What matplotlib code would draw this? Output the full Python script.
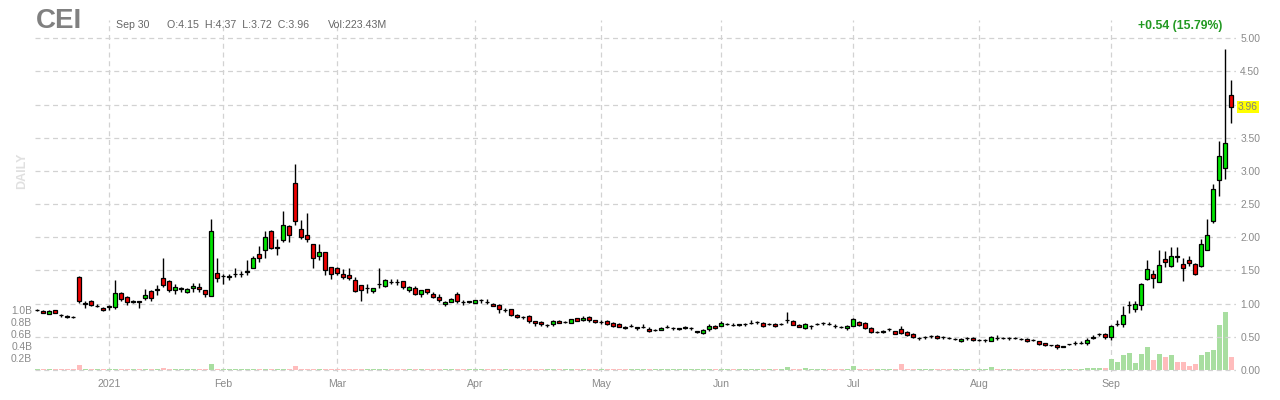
import matplotlib
matplotlib.use("Agg")
import matplotlib.pyplot as plt
import numpy as np
import pandas as pd

plt.rcParams['font.family'] = ['Liberation Sans', 'DejaVu Sans']

# ---- data (daily OHLC, volume in billions of shares) ----
ticker = "CEI"
first_day = "2020-12-15"
last_day = "2021-09-30"
holidays = ["2020-12-25", "2021-01-01", "2021-01-18", "2021-02-15",
            "2021-04-02", "2021-05-31", "2021-07-05", "2021-09-06"]

opens = [
    0.895, 0.89, 0.845, 0.895, 0.83, 0.81, 0.80, 1.40, 1.00, 1.045,
    0.965, 0.935, 0.95, 0.945, 1.165, 1.10, 1.025, 1.035, 1.085, 1.19,
    1.21, 1.39, 1.345, 1.20, 1.22, 1.17, 1.23, 1.25, 1.20, 1.12,
    1.46, 1.41, 1.40, 1.44, 1.44, 1.48, 1.54, 1.74, 1.80, 2.10,
    1.84, 1.965, 2.17, 2.81, 2.13, 2.04, 1.89, 1.72, 1.77, 1.555,
    1.53, 1.45, 1.425, 1.36, 1.275, 1.23, 1.195, 1.29, 1.27, 1.33,
    1.33, 1.335, 1.20, 1.235, 1.15, 1.215, 1.15, 1.105, 1.00, 1.03,
    1.15, 1.03, 1.03, 1.01, 1.055, 1.025, 1.00, 0.97, 0.90, 0.91,
    0.83, 0.80, 0.815, 0.74, 0.725, 0.675, 0.69, 0.74, 0.715, 0.705,
    0.785, 0.755, 0.80, 0.755, 0.72, 0.73, 0.70, 0.695, 0.64, 0.66,
    0.635, 0.64, 0.62, 0.60, 0.605, 0.645, 0.63, 0.62, 0.635, 0.63,
    0.575, 0.56, 0.615, 0.665, 0.665, 0.69, 0.68, 0.68, 0.685, 0.705,
    0.72, 0.71, 0.69, 0.695, 0.69, 0.75, 0.74, 0.68, 0.63, 0.655,
    0.69, 0.70, 0.695, 0.665, 0.65, 0.63, 0.66, 0.715, 0.71, 0.635,
    0.57, 0.575, 0.61, 0.59, 0.62, 0.565, 0.545, 0.475, 0.495, 0.505,
    0.515, 0.50, 0.48, 0.46, 0.435, 0.48, 0.485, 0.45, 0.45, 0.435,
    0.485, 0.475, 0.475, 0.485, 0.47, 0.465, 0.45, 0.43, 0.40, 0.375,
    0.375, 0.35, 0.385, 0.405, 0.405, 0.40, 0.485, 0.535, 0.54, 0.49,
    0.685, 0.69, 0.97, 0.915, 0.975, 1.375, 1.44, 1.33, 1.67, 1.57,
    1.71, 1.59, 1.655, 1.59, 1.57, 1.81, 2.25, 2.865, 3.05, 4.15,
]
highs = [
    0.92, 0.895, 0.90, 0.905, 0.84, 0.82, 0.805, 1.42, 1.035, 1.06,
    0.985, 0.95, 0.98, 1.36, 1.17, 1.115, 1.06, 1.045, 1.22, 1.20,
    1.28, 1.69, 1.35, 1.29, 1.245, 1.235, 1.31, 1.31, 1.21, 2.27,
    1.69, 1.45, 1.45, 1.54, 1.486, 1.65, 1.71, 1.86, 2.10, 2.11,
    1.97, 2.39, 2.19, 3.11, 2.26, 2.36, 1.89, 1.90, 1.78, 1.555,
    1.555, 1.515, 1.53, 1.405, 1.275, 1.30, 1.24, 1.53, 1.375, 1.375,
    1.365, 1.345, 1.26, 1.26, 1.21, 1.225, 1.17, 1.15, 1.045, 1.08,
    1.17, 1.05, 1.045, 1.06, 1.065, 1.07, 1.015, 1.00, 0.925, 0.91,
    0.845, 0.815, 0.83, 0.74, 0.74, 0.695, 0.75, 0.75, 0.73, 0.77,
    0.785, 0.815, 0.815, 0.755, 0.75, 0.745, 0.725, 0.705, 0.655, 0.695,
    0.645, 0.685, 0.645, 0.61, 0.645, 0.67, 0.65, 0.635, 0.655, 0.64,
    0.59, 0.615, 0.695, 0.675, 0.73, 0.71, 0.70, 0.695, 0.705, 0.755,
    0.74, 0.72, 0.70, 0.705, 0.70, 0.865, 0.75, 0.69, 0.71, 0.68,
    0.71, 0.72, 0.715, 0.69, 0.665, 0.68, 0.785, 0.74, 0.72, 0.65,
    0.59, 0.60, 0.635, 0.59, 0.665, 0.58, 0.555, 0.495, 0.515, 0.525,
    0.525, 0.51, 0.495, 0.475, 0.48, 0.495, 0.495, 0.47, 0.47, 0.51,
    0.52, 0.495, 0.495, 0.495, 0.485, 0.475, 0.46, 0.435, 0.41, 0.38,
    0.39, 0.36, 0.395, 0.43, 0.43, 0.48, 0.53, 0.55, 0.55, 0.68,
    0.755, 0.955, 1.04, 1.04, 1.305, 1.655, 1.505, 1.805, 1.79, 1.855,
    1.845, 1.69, 1.715, 1.605, 1.97, 2.28, 2.80, 3.445, 4.845, 4.37,
]
lows = [
    0.88, 0.855, 0.84, 0.86, 0.80, 0.785, 0.785, 1.01, 0.93, 0.965,
    0.94, 0.885, 0.895, 0.92, 1.04, 0.975, 1.015, 0.935, 1.055, 1.045,
    1.135, 1.245, 1.17, 1.145, 1.17, 1.16, 1.18, 1.17, 1.105, 1.11,
    1.32, 1.30, 1.355, 1.40, 1.40, 1.425, 1.53, 1.63, 1.69, 1.82,
    1.73, 1.93, 1.935, 2.18, 1.98, 1.93, 1.53, 1.65, 1.435, 1.375,
    1.425, 1.365, 1.36, 1.175, 1.04, 1.155, 1.155, 1.24, 1.245, 1.29,
    1.28, 1.22, 1.18, 1.135, 1.105, 1.15, 1.09, 1.03, 0.955, 1.025,
    1.005, 0.98, 1.01, 1.01, 1.01, 0.99, 0.955, 0.86, 0.875, 0.81,
    0.775, 0.76, 0.705, 0.66, 0.66, 0.64, 0.66, 0.70, 0.70, 0.705,
    0.735, 0.74, 0.72, 0.705, 0.69, 0.68, 0.65, 0.64, 0.615, 0.64,
    0.605, 0.625, 0.57, 0.59, 0.595, 0.625, 0.605, 0.60, 0.615, 0.60,
    0.56, 0.545, 0.59, 0.615, 0.655, 0.67, 0.655, 0.665, 0.66, 0.685,
    0.69, 0.645, 0.67, 0.65, 0.675, 0.70, 0.67, 0.645, 0.61, 0.615,
    0.67, 0.675, 0.67, 0.635, 0.625, 0.605, 0.66, 0.66, 0.62, 0.555,
    0.55, 0.555, 0.585, 0.535, 0.54, 0.515, 0.48, 0.445, 0.465, 0.485,
    0.465, 0.47, 0.46, 0.445, 0.42, 0.45, 0.435, 0.43, 0.42, 0.435,
    0.45, 0.46, 0.45, 0.46, 0.445, 0.42, 0.435, 0.375, 0.36, 0.36,
    0.32, 0.34, 0.37, 0.37, 0.385, 0.38, 0.46, 0.51, 0.47, 0.445,
    0.66, 0.645, 0.855, 0.87, 0.895, 1.355, 1.23, 1.32, 1.545, 1.545,
    1.62, 1.345, 1.57, 1.425, 1.555, 1.80, 2.21, 2.62, 2.885, 3.72,
]
closes = [
    0.90, 0.86, 0.89, 0.86, 0.82, 0.80, 0.79, 1.04, 1.01, 0.98,
    0.965, 0.90, 0.96, 1.165, 1.07, 1.025, 1.035, 1.025, 1.13, 1.08,
    1.21, 1.28, 1.20, 1.255, 1.24, 1.22, 1.27, 1.215, 1.14, 2.09,
    1.38, 1.42, 1.41, 1.45, 1.45, 1.48, 1.69, 1.69, 2.00, 1.84,
    1.845, 2.19, 2.04, 2.24, 2.00, 1.98, 1.69, 1.77, 1.50, 1.45,
    1.465, 1.40, 1.385, 1.19, 1.21, 1.23, 1.24, 1.30, 1.36, 1.325,
    1.325, 1.255, 1.245, 1.15, 1.20, 1.17, 1.105, 1.06, 1.03, 1.075,
    1.04, 1.02, 1.03, 1.06, 1.06, 1.02, 0.965, 0.92, 0.905, 0.825,
    0.795, 0.795, 0.73, 0.705, 0.695, 0.675, 0.74, 0.71, 0.715, 0.77,
    0.735, 0.785, 0.75, 0.725, 0.725, 0.695, 0.665, 0.65, 0.635, 0.665,
    0.635, 0.64, 0.585, 0.605, 0.635, 0.65, 0.635, 0.62, 0.635, 0.635,
    0.575, 0.605, 0.665, 0.63, 0.70, 0.695, 0.675, 0.68, 0.685, 0.71,
    0.725, 0.66, 0.695, 0.665, 0.695, 0.755, 0.68, 0.65, 0.695, 0.66,
    0.695, 0.70, 0.69, 0.66, 0.645, 0.665, 0.77, 0.675, 0.63, 0.57,
    0.57, 0.575, 0.61, 0.545, 0.555, 0.53, 0.50, 0.475, 0.495, 0.505,
    0.48, 0.495, 0.475, 0.46, 0.47, 0.48, 0.45, 0.45, 0.45, 0.50,
    0.48, 0.48, 0.475, 0.48, 0.465, 0.435, 0.445, 0.39, 0.37, 0.37,
    0.34, 0.355, 0.39, 0.40, 0.405, 0.45, 0.49, 0.54, 0.49, 0.66,
    0.69, 0.825, 0.975, 0.99, 1.29, 1.515, 1.39, 1.575, 1.63, 1.71,
    1.70, 1.54, 1.605, 1.45, 1.89, 2.03, 2.72, 3.22, 3.42, 3.96,
]
volumes = [
    0.006, 0.006, 0.006, 0.006, 0.006, 0.006, 0.006, 0.075, 0.006, 0.006,
    0.006, 0.006, 0.006, 0.020, 0.006, 0.006, 0.006, 0.006, 0.015, 0.006,
    0.015, 0.035, 0.006, 0.006, 0.006, 0.006, 0.006, 0.006, 0.006, 0.095,
    0.020, 0.006, 0.006, 0.006, 0.006, 0.006, 0.006, 0.006, 0.015, 0.006,
    0.006, 0.015, 0.006, 0.070, 0.006, 0.006, 0.006, 0.006, 0.006, 0.006,
    0.006, 0.006, 0.006, 0.006, 0.006, 0.006, 0.015, 0.015, 0.006, 0.006,
    0.006, 0.006, 0.006, 0.006, 0.006, 0.006, 0.006, 0.006, 0.006, 0.006,
    0.006, 0.006, 0.006, 0.006, 0.006, 0.006, 0.006, 0.006, 0.006, 0.006,
    0.006, 0.006, 0.006, 0.006, 0.006, 0.006, 0.006, 0.006, 0.006, 0.006,
    0.006, 0.006, 0.006, 0.006, 0.006, 0.006, 0.006, 0.006, 0.006, 0.006,
    0.006, 0.006, 0.006, 0.006, 0.006, 0.006, 0.006, 0.006, 0.006, 0.006,
    0.006, 0.015, 0.015, 0.006, 0.006, 0.006, 0.006, 0.006, 0.006, 0.015,
    0.006, 0.006, 0.006, 0.006, 0.006, 0.045, 0.012, 0.012, 0.030, 0.015,
    0.015, 0.006, 0.006, 0.006, 0.006, 0.015, 0.060, 0.012, 0.012, 0.012,
    0.012, 0.012, 0.012, 0.012, 0.090, 0.015, 0.015, 0.012, 0.012, 0.012,
    0.012, 0.012, 0.012, 0.012, 0.012, 0.012, 0.012, 0.006, 0.012, 0.040,
    0.020, 0.012, 0.012, 0.012, 0.012, 0.012, 0.010, 0.010, 0.010, 0.010,
    0.010, 0.010, 0.010, 0.017, 0.017, 0.025, 0.030, 0.030, 0.022, 0.186,
    0.136, 0.254, 0.288, 0.119, 0.271, 0.390, 0.170, 0.271, 0.220, 0.254,
    0.136, 0.136, 0.068, 0.100, 0.254, 0.305, 0.340, 0.763, 0.980, 0.223,
]

# ---- trading calendar ----
dates = pd.bdate_range(first_day, last_day)
dates = dates[~dates.isin(pd.to_datetime(holidays))]
x = np.arange(len(dates))

month_idx = [i for i in range(1, len(dates)) if dates[i].month != dates[i - 1].month]
month_lbl = [dates[i].strftime("%Y") if dates[i].month == 1 else dates[i].strftime("%b")
             for i in month_idx]

o = np.array(opens)
h = np.array(highs)
l = np.array(lows)
c = np.array(closes)
v = np.array(volumes)
up = c >= o

GREEN = "#00e400"
RED = "#ee0000"
VOL_GREEN = "#a8dea0"
VOL_RED = "#ffbcbc"
GRID = "#d2d2d2"
LABEL = "#8a8a8a"

# ---- figure ----
W, H = 1280, 400
fig = plt.figure(figsize=(W / 100, H / 100), dpi=100)
left, right, top, bottom = 35, 1236, 20, 372
ax_vol = fig.add_axes([left / W, 1 - bottom / H, (right - left) / W, (bottom - top) / H])
ax = ax_vol.twinx()

# price scale: 0 at y=369.8 px, 66.3 px per dollar
p_min = -(bottom - 369.8) / 66.3
ax.set_ylim(p_min, p_min + (bottom - top) / 66.3)
# volume scale: 59.3 px per billion
v_min = -(bottom - 369.8) / 59.3
ax_vol.set_ylim(v_min, v_min + (bottom - top) / 59.3)
ax_vol.set_xlim(-0.38, 199.8)

# volume bars
ax_vol.bar(x, v, width=0.78, color=np.where(up, VOL_GREEN, VOL_RED), linewidth=0, zorder=1)

# candles
ax.vlines(x, l, h, color="black", linewidth=1, zorder=2)
body = np.maximum(np.abs(c - o), 0.004)
ax.bar(x, body, bottom=np.minimum(o, c), width=0.62,
       color=np.where(up, GREEN, RED), edgecolor="black", linewidth=0.9, zorder=3)

# grids
ax_vol.set_xticks(month_idx)
ax_vol.set_xticklabels(month_lbl)
ax_vol.grid(axis="x", color=GRID, linestyle=(0, (4, 3)), linewidth=0.9)
ax.set_yticks(np.arange(0, 5.01, 0.5))
ax.set_yticklabels([f"{t:.2f}" for t in np.arange(0, 5.01, 0.5)])
ax.grid(axis="y", color=GRID, linestyle=(0, (4, 3)), linewidth=0.9)
ax_vol.set_yticks([0.2, 0.4, 0.6, 0.8, 1.0])
ax_vol.set_yticklabels(["0.2B", "0.4B", "0.6B", "0.8B", "1.0B"])
ax_vol.set_axisbelow(True)

for a in (ax, ax_vol):
    for s in a.spines.values():
        s.set_visible(False)
ax_vol.tick_params(axis="x", length=0, pad=5, labelsize=7.6, labelcolor=LABEL)
ax_vol.tick_params(axis="y", length=0, pad=2, labelsize=7.4, labelcolor=LABEL)
ax.tick_params(axis="y", length=0, pad=3, labelsize=7.4, labelcolor=LABEL)

# last price marker
ax.annotate(f"{closes[-1]:.2f}", xy=(1, closes[-1]), xycoords=("axes fraction", "data"),
            xytext=(1.5, 0), textcoords="offset points", ha="left", va="center",
            fontsize=7.4, color="#808080",
            bbox=dict(boxstyle="square,pad=0.12", fc="#ffff00", ec="none"), zorder=10)

# header
def fx(px):
    return px / W


def fy(py):
    return 1 - py / H


chg = closes[-1] - closes[-2]
fig.text(fx(36), fy(28), ticker, fontsize=20, fontweight="bold", color="#808080", va="baseline")
fig.text(fx(116), fy(28), dates[-1].strftime("%b %d").replace(" 0", " "),
         fontsize=7.6, color="#666666", va="baseline")
fig.text(fx(167), fy(28),
         f"O:{opens[-1]:.2f}  H:{highs[-1]:.2f}  L:{lows[-1]:.2f}  C:{closes[-1]:.2f}",
         fontsize=7.7, color="#666666", va="baseline")
fig.text(fx(328), fy(28), "Vol:223.43M", fontsize=7.7, color="#666666", va="baseline")
fig.text(fx(1222), fy(29.5), f"{chg:+.2f} ({chg / closes[-2] * 100:.2f}%)",
         fontsize=8.8, fontweight="bold", color="#229922", ha="right", va="baseline")
fig.text(fx(22), fy(171), "DAILY", rotation=90, fontsize=9, fontweight="bold",
         color="#e0e0e0", ha="center", va="center")

fig.savefig("out.png", dpi=100)
